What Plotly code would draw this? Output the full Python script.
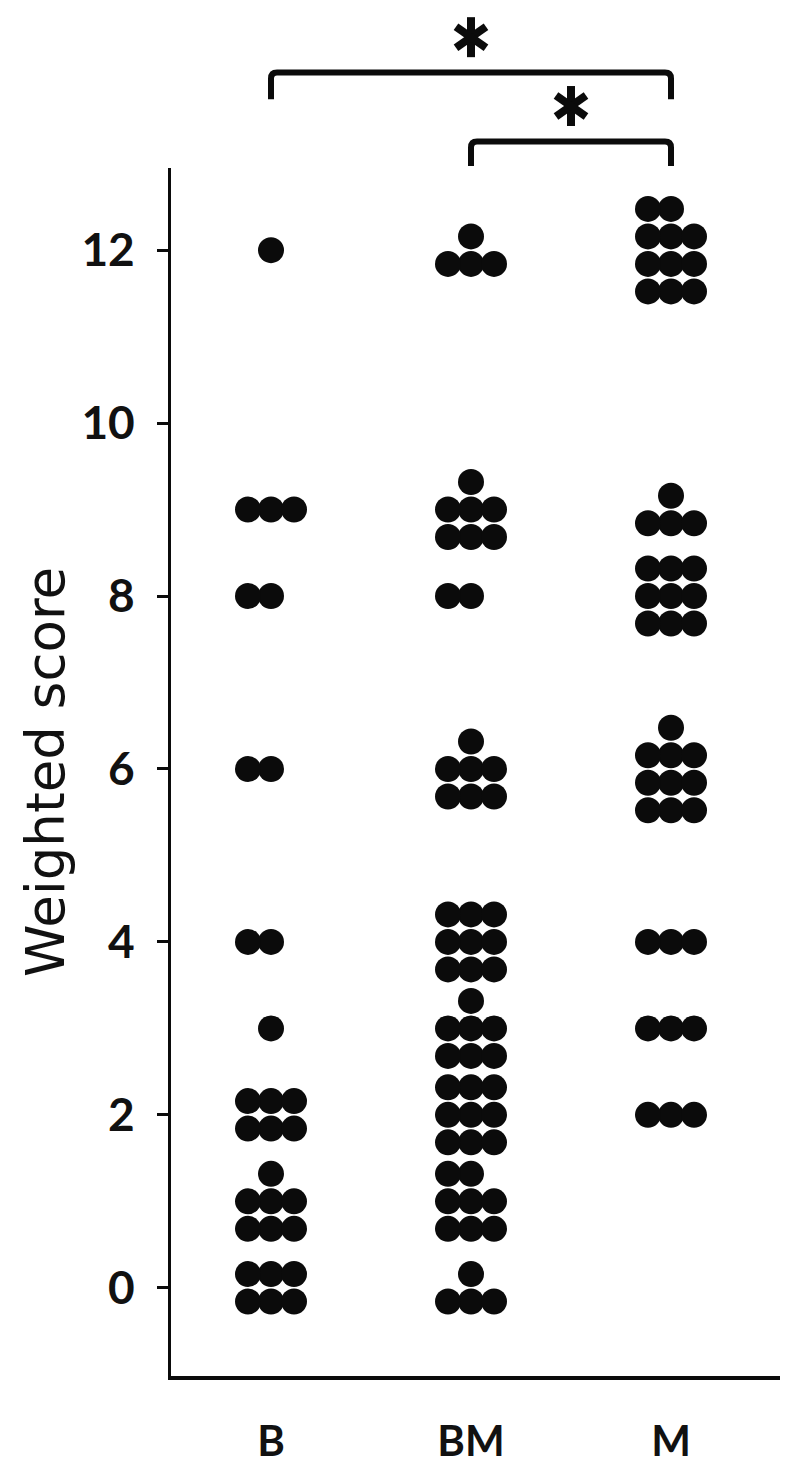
import math
import plotly.graph_objects as go

# ---------------- data ----------------
categories = ["B", "BM", "M"]

b_scores = [12, 9, 8, 6, 4, 3, 2, 1, 0]
b_counts = [1, 3, 2, 2, 2, 1, 6, 7, 6]

bm_scores = [12, 9, 8, 6, 4, 3, 2, 1, 0]
bm_counts = [4, 7, 2, 7, 9, 7, 9, 8, 4]

m_scores = [12, 9, 8, 6, 4, 3, 2]
m_counts = [11, 4, 9, 10, 3, 3, 3]

y_ticks = [0, 2, 4, 6, 8, 10, 12]

# significance comparisons: (group a, group b, label)
comparisons = [("B", "M", "*"), ("BM", "M", "*")]

# ---------------- layout helpers ----------------
DOT_DX = 0.115   # horizontal spacing of stacked dots (x units)
DOT_DY = 0.318   # vertical spacing of stacked rows (y units)
PER_ROW = 3
COL_ORDER = [0, -1, 1]


def dot_positions(scores, counts, xc):
    """Identical scores are laid out in rows of three, centred on the score."""
    xs, ys = [], []
    for s, n in zip(scores, counts):
        nrows = math.ceil(n / PER_ROW)
        for i in range(n):
            r, c = divmod(i, PER_ROW)
            xs.append(xc + COL_ORDER[c] * DOT_DX)
            ys.append(s + (r - (nrows - 1) / 2) * DOT_DY)
    return xs, ys


groups = [(b_scores, b_counts), (bm_scores, bm_counts), (m_scores, m_counts)]

fig = go.Figure()
for idx, (name, (sc, ct)) in enumerate(zip(categories, groups)):
    xs, ys = dot_positions(sc, ct, idx)
    fig.add_trace(go.Scatter(
        x=xs, y=ys, mode="markers", name=name, showlegend=False,
        marker=dict(size=26, color="#0b0b0b", line=dict(width=0)),
        cliponaxis=False, hoverinfo="skip",
    ))

# ---------------- significance brackets ----------------
bracket_levels = [(1.079, 1.057, 1.1083), (1.022, 1.0016, 1.0513)]
RX, RY = 0.03, 0.005
for (a, b, lab), (ytop, yleg, ystar) in zip(comparisons, bracket_levels):
    x0 = categories.index(a)
    x1 = categories.index(b)
    path = (f"M {x0},{yleg} L {x0},{ytop - RY} Q {x0},{ytop} {x0 + RX},{ytop} "
            f"L {x1 - RX},{ytop} Q {x1},{ytop} {x1},{ytop - RY} L {x1},{yleg}")
    fig.add_shape(type="path", xref="x", yref="paper", path=path,
                  line=dict(color="#0b0b0b", width=6))
    xm = (x0 + x1) / 2
    # asterisk drawn as three crossing strokes
    for (px0, py0, px1, py1) in [(0, -20, 0, 20), (-15, -10.5, 15, 10.5), (-15, 10.5, 15, -10.5)]:
        fig.add_shape(type="line", xref="x", yref="paper",
                      xsizemode="pixel", ysizemode="pixel",
                      xanchor=xm, yanchor=ystar,
                      x0=px0, y0=py0, x1=px1, y1=py1,
                      line=dict(color="#0b0b0b", width=8))

fig.add_annotation(text="Weighted score", xref="paper", yref="paper",
                   x=-0.206, y=0.5, xanchor="center", yanchor="middle",
                   textangle=-90, showarrow=False,
                   font=dict(family="DejaVu Sans", size=53, color="#111111"))

fig.update_layout(
    width=788, height=1469,
    margin=dict(l=163, r=13, t=160, b=81),
    paper_bgcolor="white", plot_bgcolor="white",
    showlegend=False,
)
fig.update_xaxes(
    range=[-0.5, 2.56], tickvals=list(range(len(categories))), ticktext=categories,
    showgrid=False, zeroline=False, showline=True, linecolor="#0b0b0b", linewidth=4,
    ticks="", ticklabelstandoff=26,
    tickfont=dict(family="Lato", size=42, color="#111111", weight="bold"),
)
fig.update_yaxes(
    range=[-1.02, 12.95], tickvals=y_ticks, ticktext=[str(v) for v in y_ticks],
    showgrid=False, zeroline=False, showline=True, linecolor="#0b0b0b", linewidth=3,
    ticks="outside", ticklen=11, tickwidth=2.5, tickcolor="#0b0b0b",
    ticklabelstandoff=13,
    tickfont=dict(family="Lato", size=46, color="#111111", weight="bold"),
)

fig.write_html("out.html")
